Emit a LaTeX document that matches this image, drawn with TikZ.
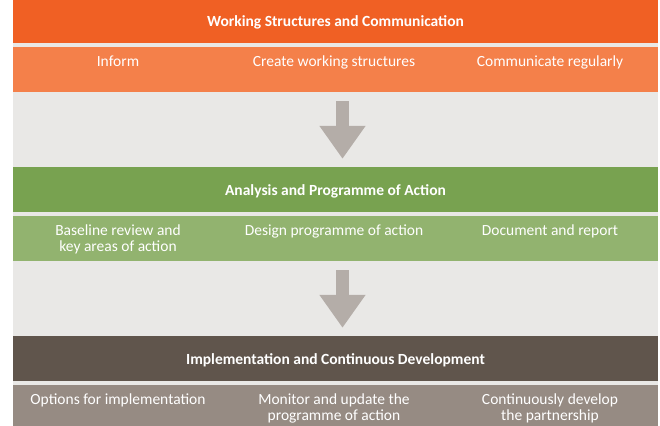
\documentclass[tikz,border=0pt]{standalone}
\usepackage{fontspec}
\setmainfont{Carlito}
\usetikzlibrary{arrows.meta}
\definecolor{orangeA}{RGB}{240,96,36}
\definecolor{orangeB}{RGB}{244,128,74}
\definecolor{greenA}{RGB}{120,162,80}
\definecolor{greenB}{RGB}{146,179,111}
\definecolor{brownA}{RGB}{96,85,76}
\definecolor{brownB}{RGB}{150,139,131}
\definecolor{bggray}{RGB}{233,232,230}
\definecolor{arrowgray}{RGB}{180,173,168}
\begin{document}
\begin{tikzpicture}[x=1pt,y=-1pt,
    head/.style={minimum width=645pt,minimum height=45pt,inner sep=0pt,text=white,
        text height=15pt,text depth=3pt,
        font=\bfseries\fontsize{15.5}{16}\selectfont},
    band/.style={minimum width=645pt,minimum height=45pt,inner sep=0pt},
    item/.style={anchor=north,align=center,inner sep=0pt,text=white,
        font=\fontsize{15.5}{16}\selectfont},
    flow/.style={draw=arrowgray,line width=12.5pt,shorten <=9pt,shorten >=8pt,
        -{Triangle[length=33pt,width=44pt]}}]
    \clip (0,0) rectangle (660,425);
    \fill[bggray] (13,0) rectangle (658,425);
    % working structures
    \node[head,fill=orangeA] (h1) at (335.5,20.5) {Working Structures and Communication};
    \node[band,fill=orangeB] (b1) at (335.5,69.5) {};
    \node[item] (inform) at (118,55.5) {Inform};
    \node[item] (create) at (334,55.5) {Create working structures};
    \node[item] (communicate) at (550,55.5) {Communicate regularly};
    % analysis
    \node[head,fill=greenA] (h2) at (335.5,189.5) {Analysis and Programme of Action};
    \node[band,fill=greenB] (b2) at (335.5,238.5) {};
    \node[item] (baseline) at (118,224.5) {Baseline review and\\key areas of action};
    \node[item] (design) at (334,224.5) {Design programme of action};
    \node[item] (document) at (550,224.5) {Document and report};
    % implementation
    \node[head,fill=brownA] (h3) at (335.5,358.5) {Implementation and Continuous Development};
    \node[band,fill=brownB] (b3) at (335.5,407.5) {};
    \node[item] (options) at (118,393.5) {Options for implementation};
    \node[item] (monitor) at (334,393.5) {Monitor and update the\\programme of action};
    \node[item] (develop) at (550,393.5) {Continuously develop\\the partnership};
    \draw[flow] ([xshift=7pt]b1.south) -- ([xshift=7pt]h2.north);
    \draw[flow] ([xshift=7pt]b2.south) -- ([xshift=7pt]h3.north);
\end{tikzpicture}
\end{document}
